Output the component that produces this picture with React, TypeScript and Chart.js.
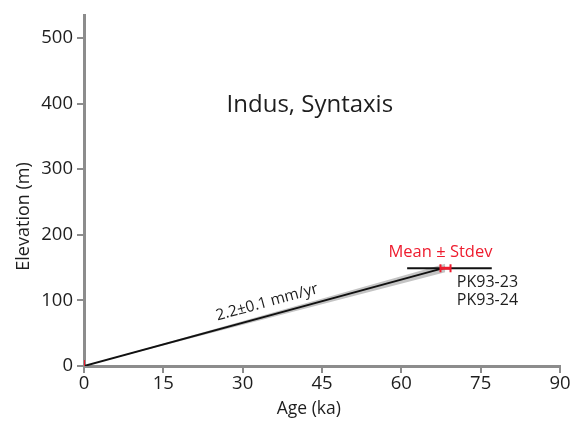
import React, { useEffect, useRef } from "react";
import { Chart, registerables } from "chart.js";

Chart.register(...registerables);

const xTicks = [0, 15, 30, 45, 60, 75, 90];
const yTicks = [0, 100, 200, 300, 400, 500];
const rateLineX = [0, 68.3];
const rateLineY = [0, 150];
const bandUpperY = [0, 156];
const bandLowerY = [0, 143];
const stdevX = [61.1, 77.1];
const meanErrX = [67.4, 69.3];
const sampleY = 149;
const sampleLabels = ["PK93-23", "PK93-24"];
const titleText = "Indus, Syntaxis";
const rateText = "2.2±0.1 mm/yr";
const legendText = "Mean ± Stdev";

const FONT = "'Open Sans', sans-serif";
const AXIS_GREY = "#8c8c8c";
const TEXT = "#1e1e1e";
const RED = "#ee1c2e";

const textPlugin = {
  id: "texts",
  afterDatasetsDraw(chart: any) {
    const { ctx, scales } = chart;
    const x = scales.x, y = scales.y;
    ctx.save();
    ctx.fillStyle = TEXT;
    ctx.textAlign = "center";
    ctx.textBaseline = "middle";
    ctx.font = `24px ${FONT}`;
    ctx.fillText(titleText, x.getPixelForValue(42.7), y.getPixelForValue(398));

    ctx.fillStyle = RED;
    ctx.font = `16.5px ${FONT}`;
    ctx.fillText(legendText, x.getPixelForValue(67.4), y.getPixelForValue(173));

    ctx.fillStyle = TEXT;
    ctx.textAlign = "left";
    ctx.font = `16px ${FONT}`;
    ctx.fillText(sampleLabels[0], x.getPixelForValue(70.5), y.getPixelForValue(127));
    ctx.fillText(sampleLabels[1], x.getPixelForValue(70.5), y.getPixelForValue(100));

    // rate label along the line
    const x0 = x.getPixelForValue(rateLineX[0]), y0 = y.getPixelForValue(rateLineY[0]);
    const x1 = x.getPixelForValue(rateLineX[1]), y1 = y.getPixelForValue(rateLineY[1]);
    const ang = Math.atan2(y1 - y0, x1 - x0);
    ctx.save();
    ctx.translate(x.getPixelForValue(34.6), y.getPixelForValue(97));
    ctx.rotate(ang);
    ctx.textAlign = "center";
    ctx.font = `15.5px ${FONT}`;
    ctx.fillText(rateText, 0, 0);
    ctx.restore();

    // axis titles
    ctx.font = `17.5px ${FONT}`;
    ctx.textAlign = "center";
    ctx.fillText("Age (ka)", x.getPixelForValue(42.5), 409);
    ctx.save();
    ctx.translate(24, y.getPixelForValue(228));
    ctx.rotate(-Math.PI / 2);
    ctx.font = `18px ${FONT}`;
    ctx.fillText("Elevation (m)", 0, 0);
    ctx.restore();
    ctx.restore();
  },
};

export default function App() {
  const ref = useRef<HTMLCanvasElement | null>(null);
  useEffect(() => {
    document.body.style.margin = "0";
    const canvas = ref.current!;
    const chart = new Chart(canvas, {
      type: "scatter",
      data: {
        datasets: [
          {
            data: [{ x: 0, y: 0 }],
            showLine: false,
            pointStyle: "line",
            rotation: 90,
            pointRadius: 6,
            pointBorderColor: RED,
            pointBorderWidth: 2,
          },
          {
            data: meanErrX.map((v) => ({ x: v, y: sampleY })),
            showLine: true,
            borderColor: RED,
            borderWidth: 3,
            pointStyle: "line",
            rotation: 90,
            pointRadius: 4,
            pointBorderColor: RED,
            pointBorderWidth: 2,
          },
          {
            data: rateLineX.map((v, i) => ({ x: v, y: rateLineY[i] })),
            showLine: true,
            borderColor: "#111",
            borderWidth: 2,
            pointRadius: 0,
          },
          {
            data: stdevX.map((v) => ({ x: v, y: sampleY })),
            showLine: true,
            borderColor: "#111",
            borderWidth: 2,
            pointRadius: 0,
          },
          {
            data: rateLineX.map((v, i) => ({ x: v, y: bandUpperY[i] })),
            showLine: true,
            borderWidth: 0,
            pointRadius: 0,
            backgroundColor: "#c4c4c4",
            fill: "+1",
          },
          {
            data: rateLineX.map((v, i) => ({ x: v, y: bandLowerY[i] })),
            showLine: true,
            borderWidth: 0,
            pointRadius: 0,
            fill: false,
          },
        ],
      },
      options: {
        animation: false,
        responsive: false,
        layout: { padding: { top: 6, right: 23, left: 0, bottom: 0 } },
        plugins: { legend: { display: false }, tooltip: { enabled: false } },
        scales: {
          x: {
            type: "linear",
            min: 0,
            max: 90,
            afterBuildTicks: (s: any) => {
              s.ticks = xTicks.map((v) => ({ value: v }));
            },
            afterFit: (s: any) => {
              s.height = 58;
            },
            border: { color: AXIS_GREY, width: 3 },
            grid: { drawOnChartArea: false, color: AXIS_GREY, lineWidth: 2, tickLength: 7 },
            ticks: { color: TEXT, font: { family: FONT, size: 18.5 }, padding: 0 },
          },
          y: {
            type: "linear",
            min: 0,
            max: 535,
            afterBuildTicks: (s: any) => {
              s.ticks = yTicks.map((v) => ({ value: v }));
            },
            afterFit: (s: any) => {
              s.width = 84;
            },
            border: { color: AXIS_GREY, width: 3 },
            grid: { drawOnChartArea: false, color: AXIS_GREY, lineWidth: 2, tickLength: 7 },
            ticks: { color: TEXT, font: { family: FONT, size: 18.5 }, padding: 4 },
          },
        },
      },
      plugins: [textPlugin],
    });
    return () => chart.destroy();
  }, []);
  return <canvas ref={ref} width={583} height={424} style={{ display: "block" }} />;
}
